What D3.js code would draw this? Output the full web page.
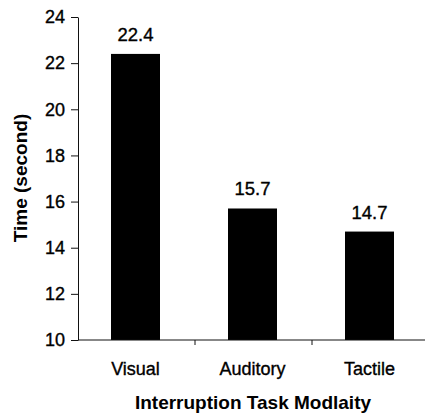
<!DOCTYPE html>
<html>
<head>
<meta charset="utf-8">
<script src="https://cdn.jsdelivr.net/npm/d3@7"></script>
<style>
  body { margin: 0; background: #fff; }
  svg { display: block; font-family: Arial, "Liberation Sans", sans-serif; }
  .heavy { stroke: #000; stroke-width: 0.35px; }
</style>
</head>
<body>
<div id="chart"></div>
<script>
// chart data
const categories = ["Visual", "Auditory", "Tactile"];
const times = [22.4, 15.7, 14.7];
const valueLabels = ["22.4", "15.7", "14.7"];
const yTicks = [10, 12, 14, 16, 18, 20, 22, 24];

function init() {
  const W = 425, H = 414;

  const svg = d3.select("#chart")
    .append("svg")
    .attr("width", W)
    .attr("height", H);

  // scales
  const x = d3.scaleBand()
    .domain(categories)
    .range([78, 429])
    .padding(0);

  const y = d3.scaleLinear()
    .domain([10, 24])
    .range([340, 17]);

  const barW = 49;

  // bars
  svg.selectAll(".bar")
    .data(times)
    .enter()
    .append("rect")
    .attr("class", "bar")
    .attr("x", (d, i) => x(categories[i]) + (x.bandwidth() - barW) / 2 - 1)
    .attr("y", d => y(d))
    .attr("width", barW)
    .attr("height", d => y(10) - y(d))
    .style("fill", "#000");

  // value labels
  svg.selectAll(".val")
    .data(times)
    .enter()
    .append("text")
    .attr("class", "val heavy")
    .attr("x", (d, i) => x(categories[i]) + x.bandwidth() / 2 - 1)
    .attr("y", d => y(d) - 13)
    .attr("text-anchor", "middle")
    .style("font-size", "18.5px")
    .text((d, i) => valueLabels[i]);

  // y axis
  const yAxis = svg.append("g")
    .attr("transform", "translate(78,0)")
    .call(d3.axisLeft(y).tickValues(yTicks).tickSize(7).tickPadding(6).tickSizeOuter(0));
  yAxis.select(".domain").attr("stroke", "#111");
  yAxis.selectAll(".tick line").attr("stroke", "#111");
  yAxis.selectAll("text")
    .attr("class", "heavy")
    .style("font-size", "18px")
    .attr("fill", "#000");

  // x axis: ticks at category boundaries
  const xAxis = svg.append("g")
    .attr("transform", `translate(0,${y(10)})`);
  xAxis.append("line")
    .attr("x1", 78).attr("x2", W)
    .attr("stroke", "#111");
  xAxis.selectAll(".xt")
    .data(categories.slice(1))
    .enter()
    .append("line")
    .attr("x1", d => x(d)).attr("x2", d => x(d))
    .attr("y1", 0).attr("y2", 5)
    .attr("stroke", "#111");
  xAxis.selectAll(".xl")
    .data(categories)
    .enter()
    .append("text")
    .attr("class", "heavy")
    .attr("x", d => x(d) + x.bandwidth() / 2 - 1)
    .attr("y", 35)
    .attr("text-anchor", "middle")
    .style("font-size", "18px")
    .text(d => d);

  // axis titles
  svg.append("text")
    .attr("x", 253)
    .attr("y", 409)
    .attr("text-anchor", "middle")
    .style("font-size", "19px")
    .style("font-weight", "bold")
    .text("Interruption Task Modlaity");

  svg.append("text")
    .attr("transform", "translate(27,178) rotate(-90)")
    .attr("text-anchor", "middle")
    .style("font-size", "19px")
    .style("font-weight", "bold")
    .text("Time (second)");
}

window.onload = init;
</script>
</body>
</html>
